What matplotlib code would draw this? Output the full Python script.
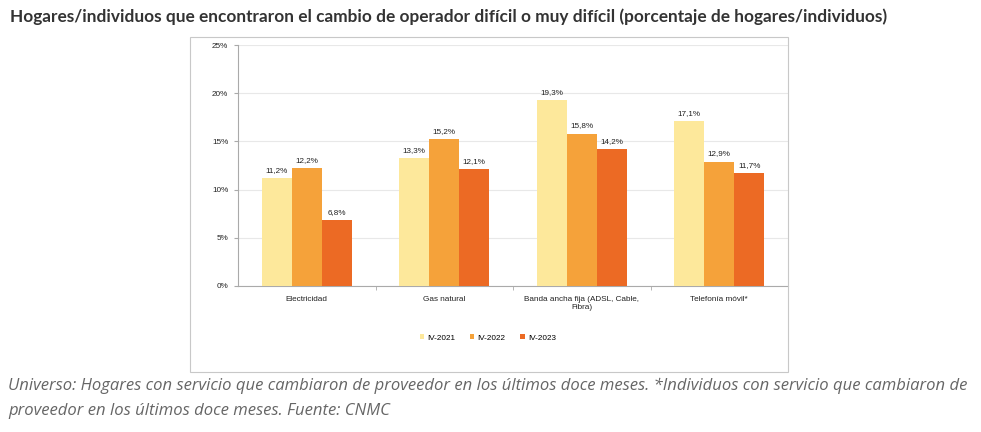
import matplotlib
matplotlib.use("Agg")
import matplotlib.pyplot as plt
import numpy as np
from matplotlib.patches import Rectangle

# Data
categories = ["Electricidad", "Gas natural", "Banda ancha fija (ADSL, Cable,\nFibra)", "Telefonía móvil*"]
series_names = ["IV-2021", "IV-2022", "IV-2023"]
iv_2021 = [11.2, 13.3, 19.3, 17.1]
iv_2022 = [12.2, 15.2, 15.8, 12.9]
iv_2023 = [6.8, 12.1, 14.2, 11.7]
y_ticks = [0, 5, 10, 15, 20, 25]

colors = ["#FDE89B", "#F5A23A", "#EC6A24"]
small = {"family": "Liberation Sans", "size": 5.9}

W, H = 981, 432
fig = plt.figure(figsize=(W / 100, H / 100), dpi=100)
fig.patch.set_facecolor("white")

# outer frame of the embedded chart image
fig.patches.append(Rectangle((190 / W, 1 - 372 / H), (788 - 190) / W, (372 - 37) / H,
                             transform=fig.transFigure, fill=False, edgecolor="#c8c8c8",
                             linewidth=0.8))

ax = fig.add_axes([238 / W, 1 - 286 / H, (788 - 238) / W, (286 - 45) / H])

x = np.arange(len(categories))
bw = 0.218
for i, (vals, name) in enumerate(zip([iv_2021, iv_2022, iv_2023], series_names)):
    pos = x + (i - 1) * bw
    bars = ax.bar(pos, vals, width=bw, color=colors[i], label=name, zorder=3)
    for b, v in zip(bars, vals):
        ax.annotate(f"{v:.1f}%".replace(".", ","), (b.get_x() + b.get_width() / 2, v),
                    xytext=(0, 3), textcoords="offset points", ha="center", va="bottom",
                    color="#222222", **small)

ax.set_xlim(-0.5, len(categories) - 0.5)
ax.set_ylim(0, 25)
ax.set_yticks(y_ticks)
ax.set_yticklabels([f"{t}%" for t in y_ticks], color="#222222", **small)
ax.set_xticks(x)
ax.set_xticklabels(categories, color="#222222", **small)
ax.set_xticks(np.arange(0.5, len(categories) - 0.5, 1), minor=True)
ax.tick_params(axis="x", which="major", length=0, pad=7)
ax.tick_params(axis="x", which="minor", length=3, color="#aaaaaa", direction="out")
ax.tick_params(axis="y", length=3, color="#aaaaaa", pad=4)

ax.grid(axis="y", color="#e8e8e8", linewidth=0.8, zorder=0)
for s in ["top", "right"]:
    ax.spines[s].set_visible(False)
ax.spines["left"].set_color("#aaaaaa")
ax.spines["bottom"].set_color("#aaaaaa")
ax.spines["left"].set_linewidth(0.8)
ax.spines["bottom"].set_linewidth(0.8)

fig.legend(loc="center", bbox_to_anchor=(488 / W, 1 - 338 / H), ncol=3, frameon=False,
           handlelength=0.5, handleheight=0.5, handletextpad=0.4,
           columnspacing=1.8, prop=small)

fig.text(10 / W, 1 - 17 / H,
         "Hogares/individuos que encontraron el cambio de operador difícil o muy difícil (porcentaje de hogares/individuos)",
         ha="left", va="center", fontsize=12.4, fontweight="bold", family="Lato", color="#333333")

fig.text(8 / W, 1 - 386 / H,
         "Universo: Hogares con servicio que cambiaron de proveedor en los últimos doce meses. *Individuos con servicio que cambiaron de",
         ha="left", va="center", fontsize=12.0, style="italic", family="Open Sans", color="#666666")
fig.text(8 / W, 1 - 411 / H,
         "proveedor en los últimos doce meses. Fuente: CNMC",
         ha="left", va="center", fontsize=12.0, style="italic", family="Open Sans", color="#666666")

fig.savefig("out.png", dpi=100)
